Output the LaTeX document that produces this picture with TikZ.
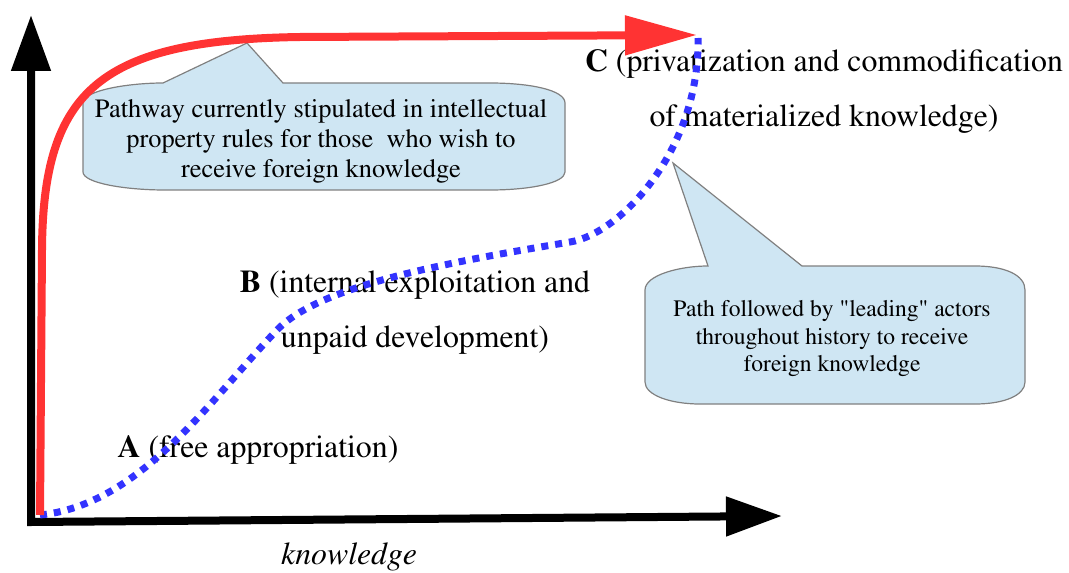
\documentclass[tikz,border=0pt]{standalone}
\IfFileExists{mathptmx.sty}{\usepackage[T1]{fontenc}\usepackage{mathptmx}}{\usepackage{fontspec}\setmainfont{Liberation Serif}}
\usetikzlibrary{arrows.meta}
\definecolor{pathred}{RGB}{255,51,51}
\definecolor{pathblue}{RGB}{51,51,255}
\definecolor{notefill}{RGB}{207,230,243}
\definecolor{noteline}{RGB}{128,128,128}

\begin{document}
\begin{tikzpicture}[x=0.5pt,y=-0.5pt,
        axis/.style={line width=4pt,line join=miter,
          {Triangle[length=28pt,width=19pt]}-{Triangle[length=28pt,width=19pt]}},
        redpath/.style={draw=pathred,line width=4pt,-{Triangle[length=36pt,width=19pt]}},
        bluepath/.style={draw=pathblue,line width=3.5pt,dash pattern=on 3.5pt off 3.5pt},
        callout/.style={fill=notefill,draw=noteline,line width=0.6pt},
        biglabel/.style={inner sep=0pt,font=\fontsize{15.9pt}{27.5pt}\selectfont},
        notetext/.style={inner sep=0pt,align=center}]
        \useasboundingbox (0,0) rectangle (1069,572);
        % callouts
        \draw [callout] (83,103) .. controls (83,90) and (130,83) .. (163,83) -- (247,43) -- (283,83)
          -- (490,83) .. controls (530,83) and (565,90) .. (565,103) -- (565,172)
          .. controls (565,183) and (530,190) .. (490,190) -- (165,190)
          .. controls (125,190) and (83,183) .. (83,172) -- cycle;
        \draw [callout] (645,290) .. controls (645,275) and (680,266) .. (708,266) -- (673,163) -- (802,266)
          -- (975,266) .. controls (1005,266) and (1025,275) .. (1025,290) -- (1025,382)
          .. controls (1025,395) and (1005,404) .. (975,404) -- (700,404)
          .. controls (670,404) and (645,395) .. (645,382) -- cycle;
        \node (noteRed) [notetext,font=\fontsize{13.2pt}{15pt}\selectfont] at (321,141)
          {Pathway currently stipulated in intellectual\\property rules for those\ \ who wish to\\receive foreign knowledge};
        \node (noteBlue) [notetext,font=\fontsize{11.8pt}{13.75pt}\selectfont] at (832,339)
          {Path followed by \textquotedbl leading\textquotedbl\ actors\\throughout history to receive\\foreign knowledge};
        % labels
        \node (labA) [biglabel,anchor=base] at (258,457) {\textbf{A} (free appropriation)};
        \node (labB) [biglabel,align=center] at (415,312) {\textbf{B} (internal exploitation and\\unpaid development)};
        \node (labC) [biglabel,align=center] at (824,91) {\textbf{C} (privatization and commodification\\of materialized knowledge)};
        \node (xlabel) [biglabel,anchor=base] at (349,564) {\textit{knowledge}};
        % axes
        \draw [axis] (31,15) -- (31,522) -- (782,516);
        % paths
        \coordinate (origin) at (40,515);
        \coordinate (blueEnd) at (698,38);
        \coordinate (redEnd) at (697,35);
        \draw [bluepath] (origin) .. controls (140,505) and (210,400) .. (277,330)
          .. controls (320,285) and (450,262) .. (570,242)
          .. controls (620,234) and (700,150) .. (blueEnd);
        \draw [redpath] (origin) -- (42,250) .. controls (43,90) and (100,40) .. (300,37) -- (redEnd);
\end{tikzpicture}
\end{document}
